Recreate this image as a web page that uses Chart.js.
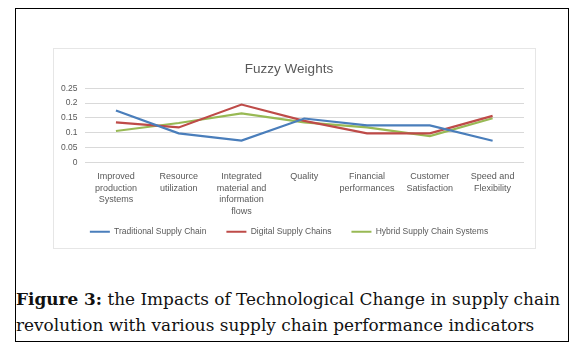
<!DOCTYPE html>
<html><head><meta charset="utf-8">
<script src="https://cdn.jsdelivr.net/npm/chart.js@4"></script>
<style>
html,body{margin:0;padding:0;background:#fff;width:570px;height:348px;overflow:hidden;}
#outer{position:absolute;left:15px;top:8px;width:552px;height:332px;border:1px solid #000;}
#box{position:absolute;left:53px;top:48px;width:481px;height:199px;border:1px solid #e6e6e6;}
#cv{position:absolute;left:0;top:0;}
#cap{position:absolute;left:16px;top:286px;width:552px;font-family:"DejaVu Serif","Liberation Serif",serif;font-size:16.9px;line-height:26px;color:#111;white-space:nowrap;}
#cap b{font-weight:600;}
</style></head><body>
<div id="outer"></div>
<div id="box"><canvas id="cv" width="481" height="199"></canvas></div>
<div id="cap"><b>Figure 3:</b> the Impacts of Technological Change in supply chain<br>revolution with various supply chain performance indicators</div>
<script>
const categories = [["Improved","production","Systems"],["Resource","utilization"],["Integrated","material and","information","flows"],["Quality"],["Financial","performances"],["Customer","Satisfaction"],["Speed and","Flexibility"]];
const traditional = [0.175,0.098,0.074,0.148,0.125,0.125,0.073];
const digital = [0.135,0.118,0.195,0.14,0.098,0.098,0.157];
const hybrid = [0.106,0.133,0.165,0.135,0.118,0.089,0.149];
const yTicks = [0,0.05,0.1,0.15,0.2,0.25];
const seriesNames = ["Traditional Supply Chain","Digital Supply Chains","Hybrid Supply Chain Systems"];
const font = "'Liberation Sans', 'Open Sans', sans-serif";
new Chart(document.getElementById('cv'),{
  type:'line',
  data:{labels:categories,datasets:[
    {label:seriesNames[0],data:traditional,borderColor:'#4a7ebb',backgroundColor:'#4a7ebb',borderWidth:2.2,pointRadius:0,tension:0},
    {label:seriesNames[1],data:digital,borderColor:'#be4b48',backgroundColor:'#be4b48',borderWidth:2.2,pointRadius:0,tension:0},
    {label:seriesNames[2],data:hybrid,borderColor:'#98b954',backgroundColor:'#98b954',borderWidth:2.2,pointRadius:0,tension:0}
  ]},
  options:{responsive:false,animation:false,
    layout:{padding:{left:0,right:11,top:0,bottom:2}},
    plugins:{
      title:{display:true,text:'Fuzzy Weights',color:'#595959',font:{family:font,size:13.5,weight:'normal'},padding:{top:12,bottom:11}},
      legend:{position:'bottom',labels:{color:'#595959',font:{family:font,size:8.5},usePointStyle:true,pointStyle:'line',pointStyleWidth:20,boxWidth:20,padding:20}},
      tooltip:{enabled:false}
    },
    scales:{
      x:{offset:true,grid:{display:false},border:{display:false},
         afterFit:(s)=>{s.height=45; s._computeLabelArea=()=>undefined;},
         ticks:{color:'#595959',font:{family:font,size:9,lineHeight:1.3},maxRotation:0,autoSkip:false,padding:0}},
      y:{min:0,max:0.25,afterBuildTicks:(a)=>{a.ticks=yTicks.map(v=>({value:v}));},
         grid:{color:'#d9d9d9',drawTicks:false},border:{display:false},
         ticks:{color:'#595959',font:{family:font,size:8.5},padding:7,autoSkip:false,callback:(v)=>String(v)}}
    }
  }
});
</script></body></html>
